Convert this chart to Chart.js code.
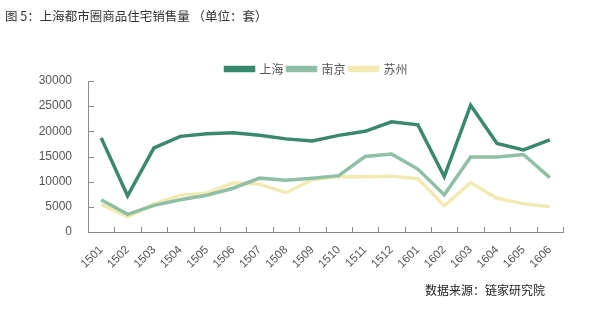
<!DOCTYPE html>
<html>
<head>
<meta charset="utf-8">
<script src="https://cdn.jsdelivr.net/npm/chart.js@4"></script>
<style>
  body { margin: 0; background: #fff; }
  .wrap { position: relative; width: 603px; height: 329px; }
  .title { position: absolute; left: 5px; top: 6px; font: 12.5px "Noto Sans CJK SC", sans-serif; color: #333; }
  .source { position: absolute; left: 425px; top: 281px; font: 12px "Noto Sans CJK SC", sans-serif; color: #222; }
  canvas { position: absolute; left: 0; top: 0; }
</style>
</head>
<body>
<div class="wrap">
  <canvas id="c" width="603" height="329"></canvas>
  <div class="title">图 5：上海都市圈商品住宅销售量 （单位：套）</div>
  <div class="source">数据来源：链家研究院</div>
</div>
<script>
const months = ['1501','1502','1503','1504','1505','1506','1507','1508','1509','1510','1511','1512','1601','1602','1603','1604','1605','1606'];
const shanghai = [18700, 7200, 16700, 19000, 19500, 19700, 19200, 18500, 18100, 19200, 20000, 21900, 21300, 11000, 25200, 17600, 16300, 18300];
const nanjing  = [6400, 3500, 5300, 6400, 7300, 8700, 10700, 10300, 10700, 11200, 15000, 15500, 12500, 7400, 14900, 14900, 15400, 10800];
const suzhou   = [5500, 3000, 5600, 7300, 7700, 9800, 9500, 7800, 10400, 11000, 11000, 11100, 10600, 5200, 9800, 6700, 5600, 5000];
const yTicks = [0, 5000, 10000, 15000, 20000, 25000, 30000];

const axisColor = '#8c8c8c';

// ticks point inward like the original chart
const innerTicks = {
  id: 'innerTicks',
  afterDraw(chart) {
    const ctx = chart.ctx;
    const x = chart.scales.x, y = chart.scales.y;
    ctx.save();
    ctx.strokeStyle = axisColor;
    ctx.lineWidth = 1;
    ctx.beginPath();
    for (let i = 0; i <= months.length; i++) {
      const px = Math.round(x.left + (x.right - x.left) * i / months.length) + 0.5;
      ctx.moveTo(px, y.bottom);
      ctx.lineTo(px, y.bottom - 5);
    }
    yTicks.forEach(v => {
      const py = Math.round(y.getPixelForValue(v)) + 0.5;
      ctx.moveTo(x.left, py);
      ctx.lineTo(x.left + 6, py);
    });
    ctx.stroke();
    ctx.restore();
  }
};

// legend sits a bit right of and below where chart.js puts it
const legendShift = {
  id: 'legendShift',
  afterLayout(chart) {
    const lg = chart.legend;
    lg.left += 35; lg.right += 35;
    lg.top += 4; lg.bottom += 4;
  }
};

new Chart(document.getElementById('c'), {
  type: 'line',
  data: {
    labels: months,
    datasets: [
      { label: '上海', data: shanghai, borderColor: '#3a8870', backgroundColor: '#3a8870', borderWidth: 3.5 },
      { label: '南京', data: nanjing, borderColor: '#8fbfa5', backgroundColor: '#8fbfa5', borderWidth: 3.5 },
      { label: '苏州', data: suzhou, borderColor: '#f1ebb3', backgroundColor: '#f1ebb3', borderWidth: 3.5 }
    ]
  },
  options: {
    responsive: false,
    animation: false,
    layout: { padding: { left: 0, right: 40, top: 55, bottom: 52 } },
    elements: { point: { radius: 0 }, line: { tension: 0 } },
    plugins: {
      tooltip: { enabled: false },
      legend: {
        position: 'top',
        labels: {
          boxWidth: 28, boxHeight: 3, padding: 4,
          color: '#555',
          font: { family: '"Noto Sans CJK SC", sans-serif', size: 12 }
        }
      }
    },
    scales: {
      x: {
        offset: true,
        grid: { display: false, offset: true },
        border: { color: axisColor },
        ticks: {
          minRotation: 45, maxRotation: 45, autoSkip: false,
          color: '#555', font: { family: 'Liberation Sans', size: 11.5 }
        },
        afterFit(s) { s.height = 45; }
      },
      y: {
        min: 0, max: 30000,
        grid: { display: false },
        border: { color: axisColor },
        afterBuildTicks(s) { s.ticks = yTicks.map(v => ({ value: v })); },
        ticks: {
          color: '#555', font: { family: 'Liberation Sans', size: 12 }, padding: 8,
          callback: v => String(v)
        },
        afterFit(s) { s.width = 88; }
      }
    }
  },
  plugins: [innerTicks, legendShift]
});
</script>
</body>
</html>
